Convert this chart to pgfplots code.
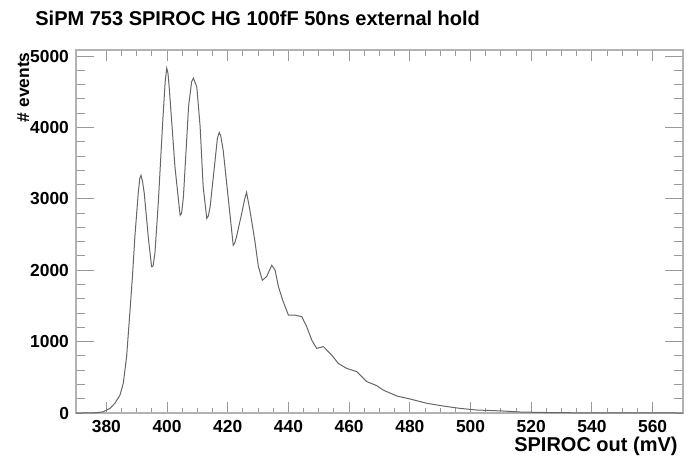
\documentclass[border=0pt]{standalone}
\usepackage{fontspec}
\setmainfont{Liberation Sans}
\usepackage{pgfplots}
\pgfplotsset{compat=1.18}

% SiPM 753 charge spectrum
\pgfplotstableread{
x y
370 0
372 0
375.7 3
377.5 8
379.0 18
381.2 65
382.8 135
384.5 252
385.6 420
386.7 800
387.8 1440
388.6 1910
389.4 2470
390.5 3075
391.0 3280
391.4 3330
391.9 3250
392.5 3075
393.8 2470
394.9 2050
395.4 2060
396.0 2235
397.1 2935
398.6 4100
399.4 4650
399.9 4830
400.3 4760
400.7 4570
402.6 3450
404.3 2770
404.8 2800
405.4 3030
407.1 4300
408.1 4640
408.7 4690
409.8 4570
410.9 4010
411.9 3170
413.1 2725
413.6 2760
414.2 2890
415.6 3450
416.6 3850
417.2 3930
417.7 3880
418.5 3680
420.0 3075
421.8 2350
422.3 2380
422.9 2470
424.6 2795
425.6 3000
426.2 3090
427.3 2840
428.9 2420
430.1 2050
431.4 1860
432.8 1910
434.5 2070
435.6 2000
436.7 1770
438.1 1580
440.0 1370
442.2 1370
444.4 1350
446.0 1210
447.7 1020
449.3 905
451.5 930
454.3 810
456.4 695
459.2 625
462.5 580
465.8 440
469.0 385
471.3 320
475.7 238
480.1 196
485.6 136
491.0 98
496.5 65
502.0 42
510.8 28
516.3 14
527.0 5
540.0 2
570.0 0
}\spectrum

\begin{document}
\begin{tikzpicture}
\path[use as bounding box] (-38pt,-22pt) rectangle (307pt,206.5pt);
\begin{axis}[
    at={(0,0)}, anchor=south west,
    scale only axis,
    width=303.5pt, height=181.5pt,
    xmin=370, xmax=570,
    ymin=0, ymax=5085,
    xtick={380,400,...,560},
    ytick={0,1000,...,5000},
    minor x tick num=3,
    minor y tick num=4,
    tick align=inside,
    major tick length=9pt,
    minor tick length=4.5pt,
    xtick style={/pgfplots/major tick length=5.5pt, /pgfplots/minor tick length=2.75pt},
    axis line style={draw=black!30, line width=1pt},
    tick style={draw=black!40, line width=0.5pt},
    ticklabel style={font=\fontsize{8.7}{10}\selectfont\bfseries},
    /pgf/number format/assume math mode=true,
    /pgf/number format/set thousands separator={},
    scaled ticks=false,
    clip=false,
]
\addplot[black!60, line width=0.5pt] table[x=x, y=y] {\spectrum};
\end{axis}
\node[anchor=base west, font=\fontsize{10}{12}\selectfont\bfseries, inner sep=0pt]
    at (-20.5pt,194pt) {SiPM 753 SPIROC HG 100fF 50ns external hold};
\node[anchor=base east, font=\fontsize{10}{12}\selectfont\bfseries, inner sep=0pt]
    at (301pt,-19pt) {SPIROC out (mV)};
\node[rotate=90, anchor=base east, font=\fontsize{8.7}{10}\selectfont\bfseries, inner sep=0pt]
    at (-23.5pt,180.5pt) {\# events};
\end{tikzpicture}
\end{document}
